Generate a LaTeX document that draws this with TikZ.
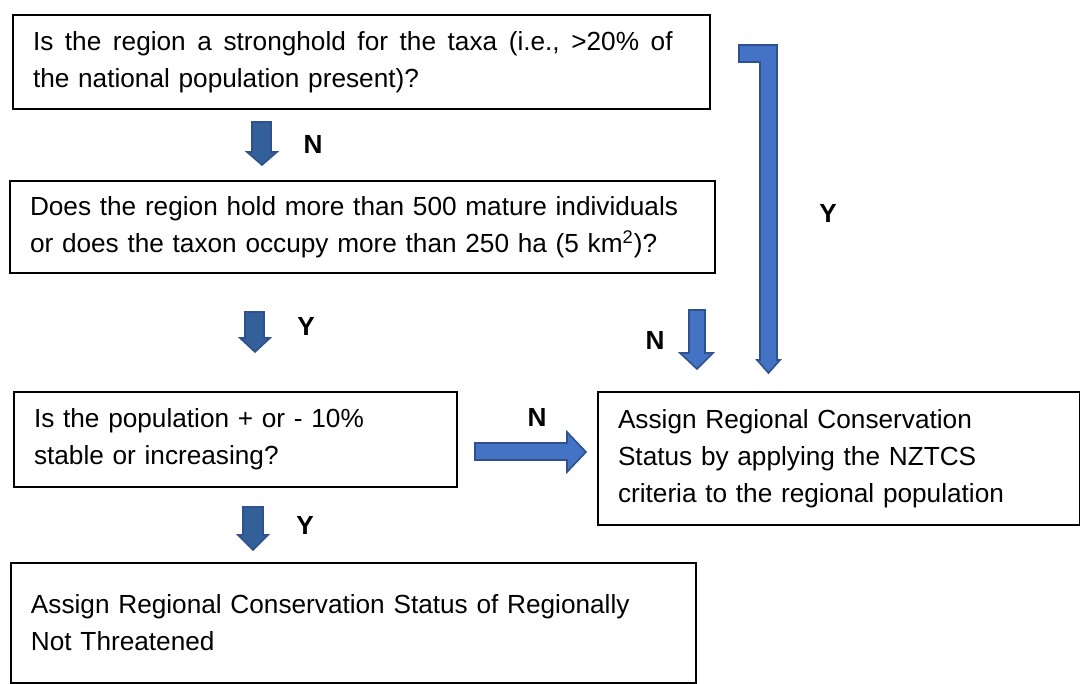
\documentclass[tikz,border=0pt]{standalone}
\usepackage{fontspec}
\setmainfont{Liberation Sans}
\usetikzlibrary{positioning}
\definecolor{arrowfill}{HTML}{4472C4}
\definecolor{arrowedge}{HTML}{2F528F}
\definecolor{arrowdark}{HTML}{34609A}
\definecolor{arrowlight}{HTML}{6A9CD8}
\tikzset{
    question/.style={rectangle, draw=black, line width=1pt, fill=white, align=left, anchor=north west, inner xsep=10pt, font=\fontsize{13.1}{18.5}\selectfont},
    blockarrow/.style={draw=arrowedge, line width=0.8pt, fill=arrowfill, line join=miter},
    shadedarrow/.style={draw=arrowedge, line width=0.8pt, left color=arrowdark, middle color=arrowlight, right color=arrowdark},
    answer/.style={font=\fontsize{13.1}{16}\selectfont\bfseries, inner sep=0pt}
}

\begin{document}
\begin{tikzpicture}[x=0.5pt, y=-0.5pt]
        \useasboundingbox (0,0) rectangle (1080,684);

        % Question boxes
        \node[question, text width=328.5pt, minimum height=47pt] (stronghold) at (12,14)
            {{\spaceskip=5.8pt Is the region a stronghold for the taxa (i.e., >20\% of}\\the national population present)?};
        \node[question, text width=332.5pt, minimum height=46pt] (size) at (9,180)
            {Does the region hold more than 500 mature individuals\\or does the taxon occupy more than 250 ha (5 km\textsuperscript{2})?};
        \node[question, text width=201.5pt, minimum height=47.5pt] (trend) at (13,391)
            {Is the population + or - 10\%\\stable or increasing?};
        \node[question, text width=221pt, minimum height=66.5pt] (nztcs) at (597,391)
            {Assign Regional Conservation\\Status by applying the NZTCS\\criteria to the regional population};
        \node[question, text width=322.5pt, minimum height=60pt] (notthreatened) at (10,562)
            {Assign Regional Conservation Status of Regionally\\Not Threatened};

        % Block arrows
        \draw[shadedarrow] (252,122) -- (271,122) -- (271,152) -- (277,152) -- (262,165) -- (247,152) -- (252,152) -- cycle;
        \draw[shadedarrow] (245,312) -- (264,312) -- (264,338) -- (270,338) -- (255,352) -- (240,338) -- (245,338) -- cycle;
        \draw[shadedarrow] (243,507) -- (263,507) -- (263,535) -- (268,535) -- (253,550) -- (238,535) -- (243,535) -- cycle;
        \draw[blockarrow] (689,310) -- (705,310) -- (705,353) -- (713,353) -- (697,369) -- (680,353) -- (689,353) -- cycle;
        \draw[blockarrow] (475,443) -- (567,443) -- (567,432) -- (586,452) -- (567,472) -- (567,460) -- (475,460) -- cycle;
        \draw[blockarrow] (739,45) -- (777,45) -- (777,360) -- (780,360) -- (768.5,373) -- (757,360) -- (760,360) -- (760,62) -- (739,62) -- cycle;

        % Answers
        \node[answer] (ansN1) at (313,144) {N};
        \node[answer] (ansY1) at (306,326) {Y};
        \node[answer] (ansY2) at (305,525) {Y};
        \node[answer] (ansN2) at (655,340) {N};
        \node[answer] (ansN3) at (537,417) {N};
        \node[answer] (ansY3) at (828,213) {Y};
    \end{tikzpicture}
\end{document}
